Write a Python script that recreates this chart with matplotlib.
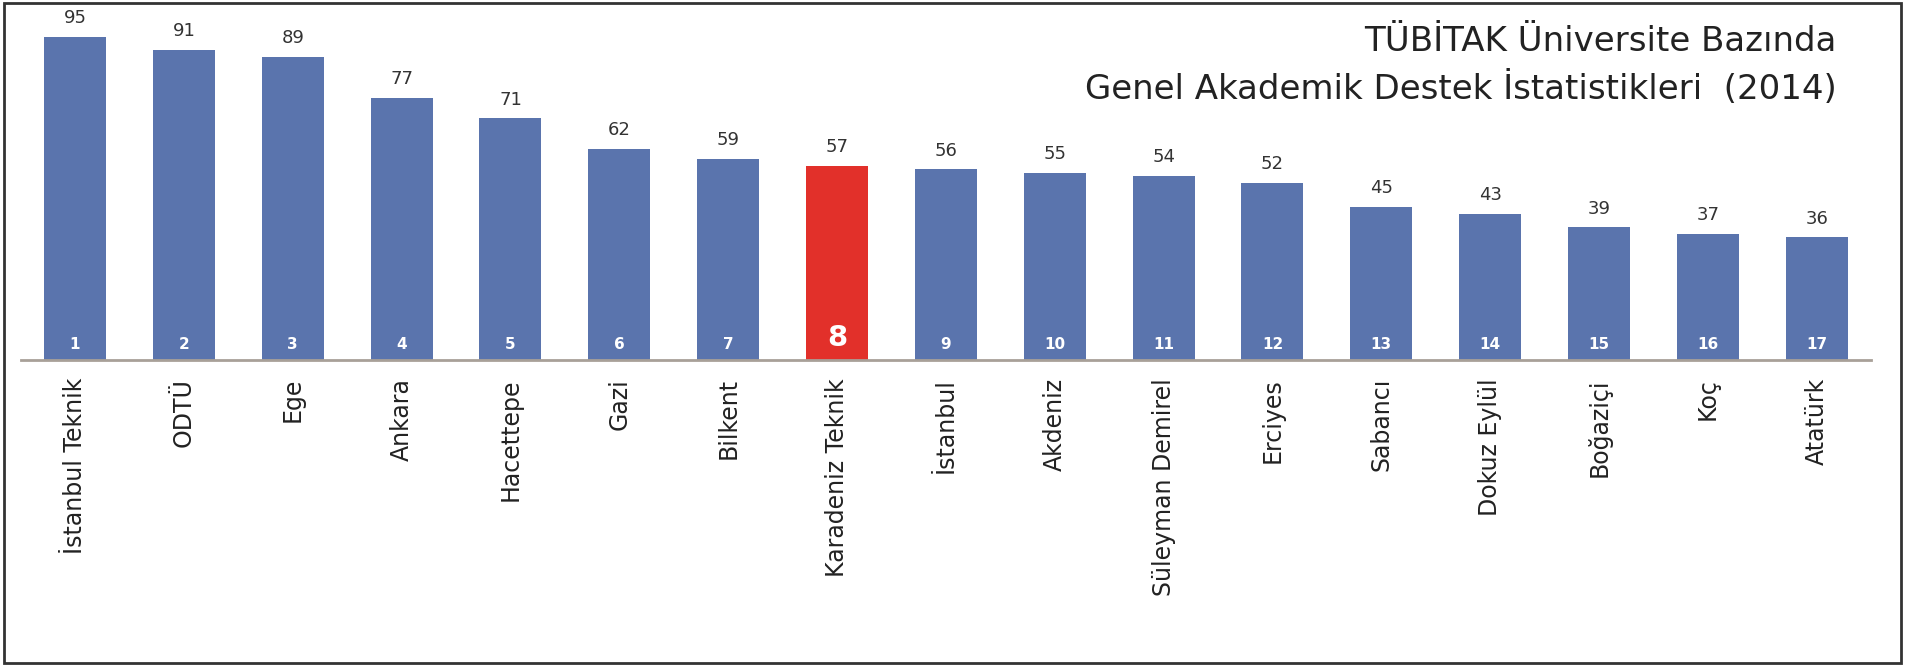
import matplotlib.pyplot as plt
from matplotlib.patches import Rectangle

# ---------------------------- Data ---------------------------- #

universities = ["İstanbul Teknik", "ODTÜ", "Ege", "Ankara", "Hacettepe", "Gazi",
                "Bilkent", "Karadeniz Teknik", "İstanbul", "Akdeniz",
                "Süleyman Demirel", "Erciyes", "Sabancı", "Dokuz Eylül",
                "Boğaziçi", "Koç", "Atatürk"]
supports = [95, 91, 89, 77, 71, 62, 59, 57, 56, 55, 54, 52, 45, 43, 39, 37, 36]
ranks = list(range(1, len(universities) + 1))
highlight = "Karadeniz Teknik"

title_lines = ["TÜBİTAK Üniversite Bazında",
               "Genel Akademik Destek İstatistikleri  (2014)"]

BLUE = "#5a74ad"
RED = "#e2302a"

# ---------------------------- Plot ---------------------------- #

fig = plt.figure(figsize=(19.07, 6.65), dpi=100)
ax = fig.add_axes([0.0108, 0.4586, 0.9704, 0.512])

x = list(range(len(universities)))
colors = [RED if u == highlight else BLUE for u in universities]
bars = ax.bar(x, supports, width=0.57, color=colors, zorder=2)

# value labels above bars
for xi, v in zip(x, supports):
    ax.annotate(str(v), (xi, v), xytext=(0, 7), textcoords="offset points",
                ha="center", va="bottom", fontsize=13, color="#333333")

# rank numbers inside bars
for xi, r, u in zip(x, ranks, universities):
    if u == highlight:
        ax.annotate(str(r), (xi, 0), xytext=(0, 6), textcoords="offset points",
                    ha="center", va="bottom", fontsize=21, fontweight="bold",
                    color="white")
    else:
        ax.annotate(str(r), (xi, 0), xytext=(0, 6), textcoords="offset points",
                    ha="center", va="bottom", fontsize=11, fontweight="bold",
                    color="white")

ax.set_xlim(-0.5, len(universities) - 0.5)
ax.set_ylim(0, 100)
ax.set_xticks(x)
ax.set_xticklabels(universities, rotation=90, fontsize=17, color="#222222")
ax.tick_params(axis="x", length=0, pad=13)
ax.set_yticks([])
for side in ["top", "right", "left"]:
    ax.spines[side].set_visible(False)
ax.spines["bottom"].set_color("#a8a098")
ax.spines["bottom"].set_linewidth(2)

# title, top right
fig.text(0.963, 0.937, title_lines[0], ha="right", va="center",
         fontsize=24.5, color="#222222")
fig.text(0.963, 0.867, title_lines[1], ha="right", va="center",
         fontsize=24.5, color="#222222")

# frame around the figure
fig.patches.append(Rectangle((0.002, 0.003), 0.995, 0.992, transform=fig.transFigure,
                             fill=False, edgecolor="#333333", linewidth=2))

plt.savefig("out.png", dpi=100)
